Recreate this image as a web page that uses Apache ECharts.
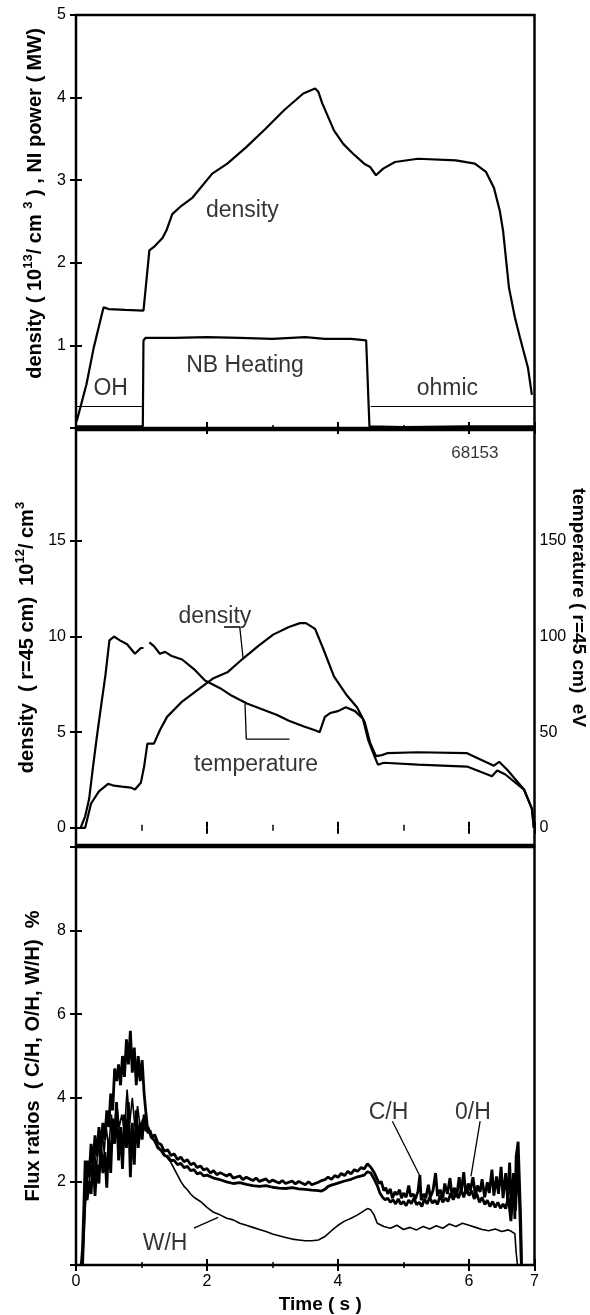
<!DOCTYPE html>
<html>
<head>
<meta charset="utf-8">
<script src="https://cdn.jsdelivr.net/npm/echarts@6.0.0/dist/echarts.min.js"></script>
<style>
  html, body { margin: 0; padding: 0; background: #fff; }
  #chart { width: 590px; height: 1315px; }
</style>
</head>
<body>
<div id="chart"></div>
<script>
// ---- top panel: density (10^13/cm3) and NB power (MW) vs time (s)
var topDensity = [[0.01,0.08],[0.16,0.53],[0.27,0.97],[0.42,1.46],[0.5,1.44],[0.75,1.43],[1.03,1.42],
  [1.06,1.66],[1.12,2.15],[1.2,2.2],[1.32,2.3],[1.38,2.39],[1.47,2.59],[1.61,2.69],[1.78,2.79],
  [2.08,3.08],[2.31,3.2],[2.6,3.4],[2.89,3.62],[3.18,3.85],[3.47,4.05],[3.65,4.11],[3.7,4.07],
  [3.76,3.93],[3.94,3.6],[4.08,3.44],[4.23,3.32],[4.4,3.2],[4.49,3.16],[4.58,3.06],[4.69,3.14],
  [4.87,3.22],[5.22,3.26],[5.8,3.24],[6.09,3.2],[6.26,3.1],[6.38,2.91],[6.47,2.63],[6.52,2.39],
  [6.61,1.7],[6.7,1.34],[6.78,1.09],[6.9,0.73],[6.96,0.4]];
var nbPower = [[0,0.02],[1.02,0.02],[1.03,1.06],[1.06,1.09],[1.5,1.09],[2.0,1.1],[2.5,1.09],[3.0,1.08],
  [3.5,1.1],[3.8,1.08],[4.2,1.08],[4.43,1.06],[4.46,1.05],[4.48,0.02],[5.0,0.01],[6.0,0.02],[7.0,0.02]];
var ohLine = [[0,0.26],[1.03,0.26]];
var ohmicLine = [[4.5,0.26],[7,0.26]];
var topNotes = [[2.54,2.63,'density'],[2.58,0.76,'NB Heating'],[0.53,0.48,'OH'],[5.67,0.48,'ohmic']];

// ---- middle panel: density r=45cm (10^12/cm3), temperature r=45cm (eV)
var midDensity = [[0.06,0],[0.14,0],[0.23,1.27],[0.35,1.9],[0.49,2.3],[0.58,2.2],[0.7,2.15],[0.84,2.1],
  [0.9,2.0],[0.99,2.35],[1.04,3.2],[1.09,4.4],[1.19,4.4],[1.28,5.1],[1.39,5.8],[1.62,6.6],[1.97,7.5],
  [2.09,7.8],[2.32,8.15],[2.55,8.85],[2.78,9.5],[3.01,10.1],[3.25,10.5],[3.42,10.7],[3.51,10.7],
  [3.65,10.4],[3.77,9.4],[3.94,7.9],[4.14,6.9],[4.29,6.3],[4.41,5.5],[4.49,4.45],[4.58,3.75],
  [4.67,3.8],[4.75,3.9],[5.22,3.95],[5.97,3.9],[6.38,3.25],[6.46,3.45],[6.58,3.05],[6.84,2.0],
  [6.96,1.0],[6.99,0]];
var midTemp = [[0.07,0],[0.14,6],[0.2,15],[0.26,32],[0.32,48],[0.38,63],[0.45,80],[0.51,98],[0.58,100],
  [0.67,98],[0.78,96],[0.9,91],[0.99,94],[1.03,94],[1.07,'-'],[1.12,97],[1.19,95],[1.28,91],[1.36,92],
  [1.45,90],[1.62,88],[1.8,83],[1.97,77],[2.2,73],[2.38,69],[2.61,65],[2.84,62],[3.07,59],[3.25,56],
  [3.48,53],[3.65,51],[3.72,50],[3.8,58],[3.88,60],[4.0,61],[4.12,63],[4.26,61],[4.38,57],[4.46,46],
  [4.55,38],[4.61,33],[4.7,34],[5.22,33],[5.97,32],[6.35,27],[6.43,30],[6.55,28],[6.84,20],[6.96,10],
  [6.99,0]];
var densLeader = [[2.26,10.5],[2.5,10.5],[2.55,8.9]];
var tempLeader = [[2.58,6.5],[2.6,4.64],[3.26,4.64]];
var midNotes = [[2.12,11.06,'density'],[2.75,3.3,'temperature'],[6.09,19.6,'68153']];
var midLeftTicks = [0, 5, 10, 15];
var midRightTicks = [0, 50, 100, 150];

// ---- bottom panel: flux ratios (%)
var chRatio = [[0.08,0],[0.1,0.4],[0.12,1.4],[0.14,2.5],[0.16,1.7],[0.18,2.5],[0.2,2.1],[0.23,2.9],[0.26,2.4],
  [0.29,3.1],[0.32,2.6],[0.35,3.3],[0.38,2.8],[0.41,3.4],[0.44,3.0],[0.47,3.7],[0.5,3.3],[0.53,4.1],
  [0.56,3.7],[0.59,4.7],[0.62,4.4],[0.65,4.8],[0.68,4.3],[0.71,5.0],[0.74,4.5],[0.77,5.4],[0.8,4.8],
  [0.83,5.6],[0.86,4.6],[0.89,5.2],[0.92,4.3],[0.95,5.0],[0.98,4.4],[1.01,4.9],[1.04,4.1],[1.07,3.6],
  [1.1,3.15],[1.13,3.22],[1.16,3.05],[1.2,3.12],[1.25,2.92],[1.3,2.88],[1.35,2.72],[1.4,2.76],[1.45,2.62],
  [1.5,2.66],[1.55,2.52],[1.6,2.58],[1.65,2.47],[1.7,2.52],[1.75,2.4],[1.8,2.44],[1.85,2.33],[1.9,2.37],
  [1.95,2.27],[2.0,2.31],[2.05,2.2],[2.1,2.26],[2.15,2.16],[2.2,2.21],[2.3,2.13],[2.35,2.18],[2.4,2.08],
  [2.5,2.13],[2.55,2.04],[2.6,2.1],[2.7,2.02],[2.75,2.08],[2.8,2.0],[2.9,2.06],[2.95,1.98],[3.0,2.03],
  [3.1,1.96],[3.15,2.02],[3.2,1.95],[3.3,2.01],[3.35,1.94],[3.4,2.0],[3.5,1.92],[3.55,1.99],[3.6,1.92],
  [3.7,1.98],[3.75,2.02],[3.8,2.04],[3.85,2.1],[3.9,2.05],[3.95,2.14],[4.0,2.1],[4.05,2.19],[4.1,2.14],
  [4.15,2.24],[4.2,2.18],[4.25,2.28],[4.3,2.24],[4.35,2.33],[4.4,2.3],[4.45,2.42],[4.5,2.34],[4.55,2.22],
  [4.6,2.05],[4.63,1.95],[4.66,2.0],[4.7,1.78],[4.73,1.85],[4.76,1.7],[4.8,1.82],[4.83,1.6],[4.87,1.75],
  [4.9,1.68],[4.94,1.8],[4.97,1.6],[5.0,1.72],[5.04,1.62],[5.08,1.9],[5.11,1.64],[5.15,1.7],[5.18,1.58],
  [5.22,1.75],[5.25,2.15],[5.27,1.55],[5.31,1.7],[5.34,1.6],[5.38,1.92],[5.41,1.62],[5.45,1.78],[5.49,2.2],
  [5.52,1.65],[5.56,1.8],[5.6,1.6],[5.63,1.95],[5.67,1.7],[5.71,2.08],[5.74,1.68],[5.78,1.85],[5.81,1.62],
  [5.85,2.1],[5.88,1.75],[5.92,2.22],[5.95,1.7],[5.99,1.95],[6.02,1.78],[6.06,2.1],[6.1,1.65],[6.13,1.9],
  [6.17,1.75],[6.2,2.05],[6.24,1.62],[6.28,1.98],[6.31,1.72],[6.35,2.28],[6.38,1.66],[6.42,2.12],[6.45,1.7],
  [6.49,2.35],[6.52,1.6],[6.56,2.2],[6.59,1.55],[6.62,2.45],[6.65,1.3],[6.68,2.2],[6.7,1.1],[6.72,2.6],
  [6.75,2.95],[6.77,2.0],[6.79,1.0],[6.8,0]];
var ohRatio = [[0.1,0],[0.12,0.9],[0.14,1.8],[0.17,1.55],[0.2,2.0],[0.23,1.7],[0.26,2.6],[0.29,1.65],
  [0.32,2.4],[0.35,1.95],[0.38,2.9],[0.41,2.2],[0.44,2.7],[0.47,1.85],[0.5,3.0],[0.53,2.2],[0.56,3.5],
  [0.59,2.9],[0.62,3.9],[0.65,2.5],[0.68,3.3],[0.71,2.3],[0.74,3.6],[0.77,2.8],[0.8,3.9],[0.83,2.1],
  [0.86,3.4],[0.89,2.4],[0.92,3.7],[0.95,2.8],[0.98,3.4],[1.01,3.0],[1.04,3.6],[1.07,3.2],[1.1,3.3],
  [1.15,3.05],[1.2,2.98],[1.25,2.8],[1.3,2.74],[1.35,2.62],[1.4,2.6],[1.45,2.5],[1.5,2.5],[1.55,2.4],
  [1.6,2.43],[1.65,2.33],[1.7,2.36],[1.75,2.26],[1.8,2.28],[1.85,2.18],[1.9,2.21],[1.95,2.13],[2.0,2.15],
  [2.1,2.08],[2.2,2.04],[2.3,1.99],[2.4,1.95],[2.5,1.97],[2.6,1.93],[2.7,1.9],[2.8,1.88],[2.9,1.9],
  [3.0,1.86],[3.1,1.84],[3.2,1.83],[3.3,1.85],[3.4,1.82],[3.5,1.81],[3.6,1.79],[3.7,1.78],[3.75,1.77],
  [3.8,1.81],[3.85,1.88],[3.9,1.91],[4.0,1.96],[4.1,2.01],[4.2,2.05],[4.3,2.11],[4.4,2.15],[4.45,2.23],
  [4.5,2.2],[4.55,2.06],[4.6,1.9],[4.64,1.72],[4.68,1.62],[4.72,1.56],[4.76,1.6],[4.8,1.5],[4.84,1.56],
  [4.88,1.46],[4.92,1.58],[4.96,1.45],[5.0,1.52],[5.04,1.42],[5.08,1.55],[5.12,1.47],[5.16,1.6],[5.2,1.44],
  [5.24,1.5],[5.28,1.4],[5.32,1.58],[5.36,1.46],[5.4,1.62],[5.44,1.48],[5.48,1.55],[5.52,1.45],[5.56,1.66],
  [5.6,1.5],[5.64,1.6],[5.68,1.52],[5.72,1.72],[5.76,1.56],[5.8,1.75],[5.84,1.6],[5.88,1.8],[5.92,1.62],
  [5.96,1.85],[6.0,1.66],[6.04,1.78],[6.08,1.58],[6.12,1.7],[6.16,1.5],[6.2,1.62],[6.24,1.45],[6.28,1.55],
  [6.32,1.4],[6.36,1.52],[6.4,1.38],[6.44,1.5],[6.48,1.36],[6.52,1.46],[6.56,1.35],[6.6,1.62],[6.64,1.05],
  [6.68,1.9],[6.71,1.3],[6.74,2.4],[6.77,1.6],[6.79,0.6],[6.8,0]];
var whRatio = [[0.1,0],[0.13,1.0],[0.16,1.9],[0.19,1.7],[0.22,2.4],[0.25,2.0],[0.28,2.8],[0.31,2.2],
  [0.34,3.0],[0.37,2.4],[0.4,3.2],[0.43,2.7],[0.46,3.3],[0.5,2.8],[0.54,3.6],[0.58,3.1],[0.62,3.9],
  [0.66,3.3],[0.7,3.6],[0.74,3.2],[0.78,4.2],[0.82,3.4],[0.86,4.0],[0.9,3.3],[0.94,3.8],[0.98,3.3],
  [1.02,3.5],[1.06,3.3],[1.1,3.2],[1.15,3.1],[1.2,2.95],[1.25,2.85],[1.3,2.75],[1.35,2.65],[1.4,2.55],
  [1.45,2.45],[1.5,2.3],[1.55,2.15],[1.6,2.0],[1.65,1.88],[1.7,1.8],[1.75,1.7],[1.8,1.62],[1.9,1.52],
  [2.0,1.38],[2.1,1.26],[2.2,1.2],[2.3,1.12],[2.4,1.08],[2.5,1.0],[2.6,0.95],[2.7,0.9],[2.8,0.85],
  [2.9,0.8],[3.0,0.74],[3.1,0.7],[3.2,0.66],[3.3,0.62],[3.4,0.6],[3.5,0.58],[3.6,0.58],[3.7,0.6],
  [3.8,0.68],[3.9,0.82],[4.0,0.95],[4.1,1.05],[4.2,1.12],[4.3,1.2],[4.4,1.3],[4.45,1.35],[4.5,1.32],
  [4.55,1.2],[4.6,1.0],[4.7,0.92],[4.8,0.88],[4.9,0.95],[5.0,0.85],[5.1,0.9],[5.2,0.84],[5.3,0.92],
  [5.4,0.86],[5.5,0.94],[5.6,0.88],[5.7,0.98],[5.8,0.92],[5.9,1.0],[6.0,0.95],[6.1,0.9],[6.2,0.85],
  [6.3,0.82],[6.4,0.86],[6.5,0.8],[6.6,0.84],[6.65,0.8],[6.7,0.75],[6.72,0.3],[6.74,0]];
var chLeader = [[4.83,3.44],[5.26,2.1]];
var ohLeader = [[6.17,3.44],[6.03,2.12]];
var whLeader = [[1.8,0.88],[2.17,1.14]];
var botNotes = [[4.77,3.64,'C/H'],[6.06,3.64,'0/H'],[1.36,0.52,'W/H']];

var FONT = 'Liberation Sans, Arial, sans-serif';
var chart = echarts.init(document.getElementById('chart'), null, { renderer: 'canvas' });

function grid(top, height) {
  return { left: 76, width: 458.5, top: top, height: height, show: true,
    containLabel: false, outerBoundsMode: 'none',
    borderColor: '#000', borderWidth: 2.5, backgroundColor: 'transparent' };
}
var tick = { inside: true, length: 6, lineStyle: { color: '#000', width: 2 } };
var minor = { show: true, splitNumber: 2, length: 3, lineStyle: { color: '#000', width: 1.5 } };
var lbl = { color: '#000', fontFamily: FONT, fontSize: 16 };

function xAx(gi, pos, showLabel, name) {
  return {
    type: 'value', gridIndex: gi, position: pos, min: 0, max: 7, interval: 2,
    axisLine: { show: false }, splitLine: { show: false },
    axisTick: tick, minorTick: minor,
    axisLabel: Object.assign({ show: showLabel, margin: 9 }, lbl),
    name: name || '', nameLocation: 'middle', nameGap: 30,
    nameTextStyle: { color: '#000', fontFamily: FONT, fontSize: 19, fontWeight: 'bold', padding: [0, 0, 0, 30] }
  };
}
function yAx(gi, pos, min, max, interval, labelFn) {
  return {
    type: 'value', gridIndex: gi, position: pos, min: min, max: max, interval: interval,
    axisLine: { show: false }, splitLine: { show: false }, axisTick: tick,
    axisLabel: Object.assign({ show: !!labelFn, margin: 10, formatter: labelFn }, lbl)
  };
}
function line(xi, yi, data, w) {
  return { type: 'line', xAxisIndex: xi, yAxisIndex: yi, data: data, symbol: 'none',
    lineStyle: { color: '#000', width: w }, silent: true, z: 3 };
}
function notes(xi, yi, data, size) {
  return { type: 'scatter', xAxisIndex: xi, yAxisIndex: yi, data: data, symbolSize: 1,
    itemStyle: { color: 'transparent' }, silent: true, z: 5,
    label: { show: true, position: 'inside', color: '#000', fontFamily: FONT, fontSize: size,
      formatter: function (p) { return p.data[2]; } } };
}

var titleRich = {
  b: { fontSize: 20, fontWeight: 'bold', fontFamily: FONT, color: '#000', lineHeight: 26 },
  s: { fontSize: 13, fontWeight: 'bold', fontFamily: FONT, color: '#000', lineHeight: 13, verticalAlign: 'top' }
};

var yTop = yAx(0, 'left', 0, 5, 1, function (v) { return v === 0 ? '' : v; });
yTop.name = '{b|density ( 10}{s|13}{b|/ cm }{s|3}{b| ) , NI power ( MW)}';
yTop.nameLocation = 'middle'; yTop.nameGap = 28; yTop.nameRotate = 90;
yTop.nameTextStyle = { rich: titleRich, padding: [0, 0, 0, 36] };

var yMidL = yAx(1, 'left', -0.9, 20.8, null, function (v) { return v; });
yMidL.axisLabel.customValues = midLeftTicks;
yMidL.axisTick = Object.assign({ customValues: midLeftTicks }, tick);
yMidL.name = '{b|density  ( r=45 cm)  10}{s|12}{b|/ cm}{s|3}';
yMidL.nameLocation = 'middle'; yMidL.nameGap = 36; yMidL.nameRotate = 90;
yMidL.nameTextStyle = { rich: titleRich };

var yMidR = yAx(1, 'right', -9, 208, null, function (v) { return v; });
yMidR.axisLabel.customValues = midRightTicks;
yMidR.axisLabel.margin = 5;
yMidR.axisTick = Object.assign({ customValues: midRightTicks }, tick);
yMidR.name = 'temperature ( r=45 cm)  eV';
yMidR.nameLocation = 'middle'; yMidR.nameGap = 34; yMidR.nameRotate = -90;
yMidR.nameMoveOverlap = false;
yMidR.nameTextStyle = { color: '#000', fontFamily: FONT, fontSize: 19, fontWeight: 'bold', padding: [0, 60, 0, 0] };

var yBot = yAx(2, 'left', 0, 10, 2, function (v) { return (v === 0 || v === 10) ? '' : v; });
yBot.name = 'Flux ratios  ( C/H, O/H, W/H)  %';
yBot.nameLocation = 'middle'; yBot.nameGap = 33; yBot.nameRotate = 90;
yBot.nameTextStyle = { color: '#000', fontFamily: FONT, fontSize: 20, fontWeight: 'bold' };

var option = {
  animation: false,
  backgroundColor: '#fff',
  grid: [grid(15, 413), grid(430, 415), grid(847, 418)],
  xAxis: [
    xAx(0, 'bottom', false), xAx(0, 'top', false),
    xAx(1, 'bottom', false), xAx(1, 'top', false),
    xAx(2, 'bottom', true, 'Time ( s )'), xAx(2, 'top', false)
  ],
  yAxis: [
    yTop, yAx(0, 'right', 0, 5, 1, null),
    yMidL, yMidR,
    yBot, yAx(2, 'right', 0, 10, 2, null)
  ],
  series: [
    line(0, 0, topDensity, 2.2),
    line(0, 0, nbPower, 2.2),
    line(0, 0, ohLine, 1),
    line(0, 0, ohmicLine, 1),
    notes(0, 0, topNotes, 23),

    line(2, 2, midDensity, 2.2),
    line(2, 3, midTemp, 2.2),
    line(2, 2, densLeader, 1.3),
    line(2, 2, tempLeader, 1.3),
    notes(2, 2, midNotes.slice(0, 2), 23),
    notes(2, 2, midNotes.slice(2), 17),

    line(4, 4, chRatio, 2.8),
    line(4, 4, ohRatio, 2.8),
    line(4, 4, whRatio, 1.6),
    line(4, 4, chLeader, 1.3),
    line(4, 4, ohLeader, 1.3),
    line(4, 4, whLeader, 1.3),
    notes(4, 4, botNotes, 23)
  ]
};
chart.setOption(option);
</script>
</body>
</html>
